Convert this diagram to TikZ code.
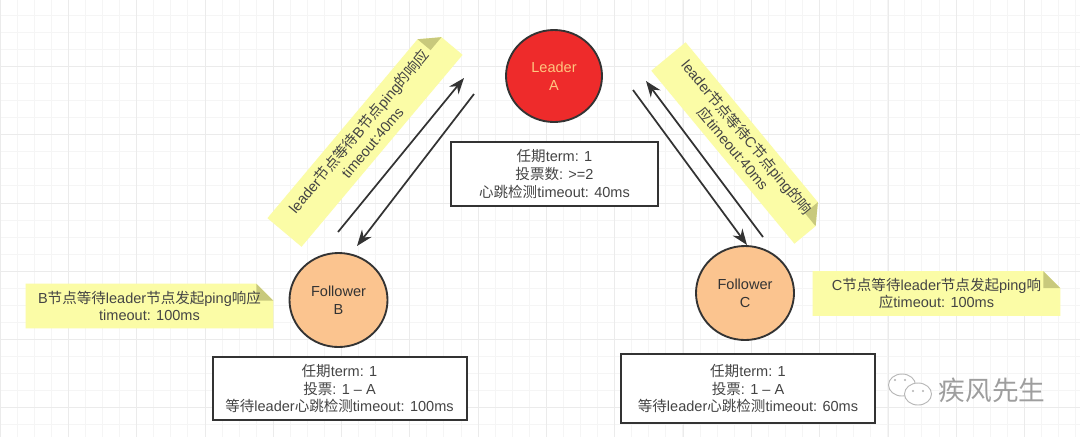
\documentclass[tikz,border=0pt]{standalone}
\usepackage{fontspec}
\setmainfont{Liberation Sans}
\newfontfamily\cjk{Noto Sans CJK SC}
\usetikzlibrary{arrows.meta, backgrounds, calc, shapes.geometric}
\newcommand{\zh}[1]{{\cjk #1}}
\def\px{0.75pt}
\definecolor{noteyellow}{HTML}{FBFCA6}
\definecolor{notefold}{HTML}{C8C97C}
\definecolor{inkgray}{HTML}{444444}
\definecolor{linedark}{HTML}{333333}
\definecolor{leaderred}{HTML}{EE2B2B}
\definecolor{leadertext}{HTML}{FFC680}
\definecolor{followerorange}{HTML}{FBC48F}

\begin{document}
\begin{tikzpicture}[
    x=0.75pt, y=-0.75pt,
    txt/.style={
        text=inkgray,
        align=center,
        font=\fontsize{10.9}{13.2}\selectfont
    },
    state/.style={
        ellipse,
        draw=linedark,
        line width=1.4pt,
        inner sep=0pt,
        align=center,
        font=\fontsize{10.9}{13.6}\selectfont
    },
    leader/.style={
        state,
        fill=leaderred,
        text=leadertext,
        minimum width=96*\px,
        minimum height=92*\px
    },
    follower/.style={
        state,
        fill=followerorange,
        text=linedark,
        minimum width=98*\px,
        minimum height=94*\px
    },
    infobox/.style={
        txt,
        draw=linedark,
        line width=1.5pt,
        fill=white,
        inner sep=0pt
    },
    note/.style={
        txt,
        inner sep=0pt,
        minimum height=44*\px
    },
    arrow/.style={
        -{Stealth[length=12pt, width=9pt]},
        line width=1.3pt,
        draw=linedark
    },
    bubble/.style={
        ellipse,
        draw=black!28,
        fill=white,
        line width=0.7pt,
        minimum width=27*\px,
        minimum height=22*\px,
        inner sep=0pt
    }
]
\useasboundingbox (0,0) rectangle (1080,437);

% Grid
\begin{scope}[on background layer]
    \fill[white] (0,0) rectangle (1080,437);
    \foreach \x in {0,17.07,...,1080} \draw[black!4, line width=0.5pt] (\x,0) -- (\x,437);
    \foreach \y in {-2,15.07,...,437} \draw[black!4, line width=0.5pt] (0,\y) -- (1080,\y);
    \foreach \x in {0,68.3,...,1080} \draw[black!8, line width=0.6pt] (\x,0) -- (\x,437);
    \foreach \y in {-2,66.3,...,437} \draw[black!8, line width=0.6pt] (0,\y) -- (1080,\y);
\end{scope}

% Nodes
\node (leadera) [leader] at (554,76) {Leader\\A};
\node (followerb) [follower] at (338.5,300) {Follower\\B};
\node (followerc) [follower] at (745,293) {Follower\\C};

\node (infoa) [infobox, minimum width=207*\px, minimum height=64*\px] at (554.5,174) {\zh{任期}term: 1\\\zh{投票数}: >=2\\\zh{心跳检测}timeout: 40ms};
\node (infob) [infobox, minimum width=254*\px, minimum height=63*\px] at (339.5,388.5) {\zh{任期}term: 1\\\zh{投票}: 1 -- A\\\zh{等待}leader\zh{心跳检测}timeout: 100ms};
\node (infoc) [infobox, minimum width=254*\px, minimum height=69*\px] at (748,388.5) {\zh{任期}term: 1\\\zh{投票}: 1 -- A\\\zh{等待}leader\zh{心跳检测}timeout: 60ms};

\node (noteab) [note, minimum width=250*\px, rotate=50] at (365,136.5) {leader\zh{节点等待}B\zh{节点}ping\zh{的响应}\\timeout:40ms};
\node (noteac) [note, minimum width=224*\px, rotate=-50.4] at (740,143) {leader\zh{节点等待}C\zh{节点}ping\zh{的响}\\\zh{应}timeout:40ms};
\node (noteb) [note, minimum width=247*\px] at (149.5,306) {B\zh{节点等待}leader\zh{节点发起}ping\zh{响应}\\timeout: 100ms};
\node (notec) [note, minimum width=247*\px] at (936.5,293.5) {C\zh{节点等待}leader\zh{节点发起}ping\zh{响}\\\zh{应}timeout: 100ms};

% Note paper with its folded corner
\begin{scope}[on background layer]
    \foreach \n in {noteab,noteac,noteb,notec} {
        \coordinate (p1) at ($(\n.north east)!12.75pt!(\n.north west)$);
        \coordinate (p2) at ($(\n.north east)!12.75pt!(\n.south east)$);
        \fill[noteyellow] (\n.north west) -- (p1) -- (p2) -- (\n.south east) -- (\n.south west) -- cycle;
        \fill[notefold] (p1) -- (p2) -- ($(p1)+(p2)-(\n.north east)$) -- cycle;
    }
\end{scope}

% Watermark
\node (mark) [text=black!38, font=\fontsize{20}{20}\cjk] at (992,390) {疾风先生};
\node (bubbleback) [bubble] at (902,385) {};
\node (bubblefront) [bubble] at (918,394) {};
\foreach \x/\y in {895/380,905/380,913/391,923/391} \fill[black!30] (\x,\y) circle (0.9pt);

% Paths
\coordinate (bout) at (338,232);
\coordinate (ain) at (464,78);
\coordinate (aout) at (474,94);
\coordinate (bin) at (357,246);
\coordinate (aoutc) at (633,90);
\coordinate (cin) at (747,245);
\coordinate (cout) at (763,237);
\coordinate (ainc) at (646,81);
\draw [arrow] (bout) -- (ain);
\draw [arrow] (aout) -- (bin);
\draw [arrow] (aoutc) -- (cin);
\draw [arrow] (cout) -- (ainc);

\end{tikzpicture}
\end{document}
